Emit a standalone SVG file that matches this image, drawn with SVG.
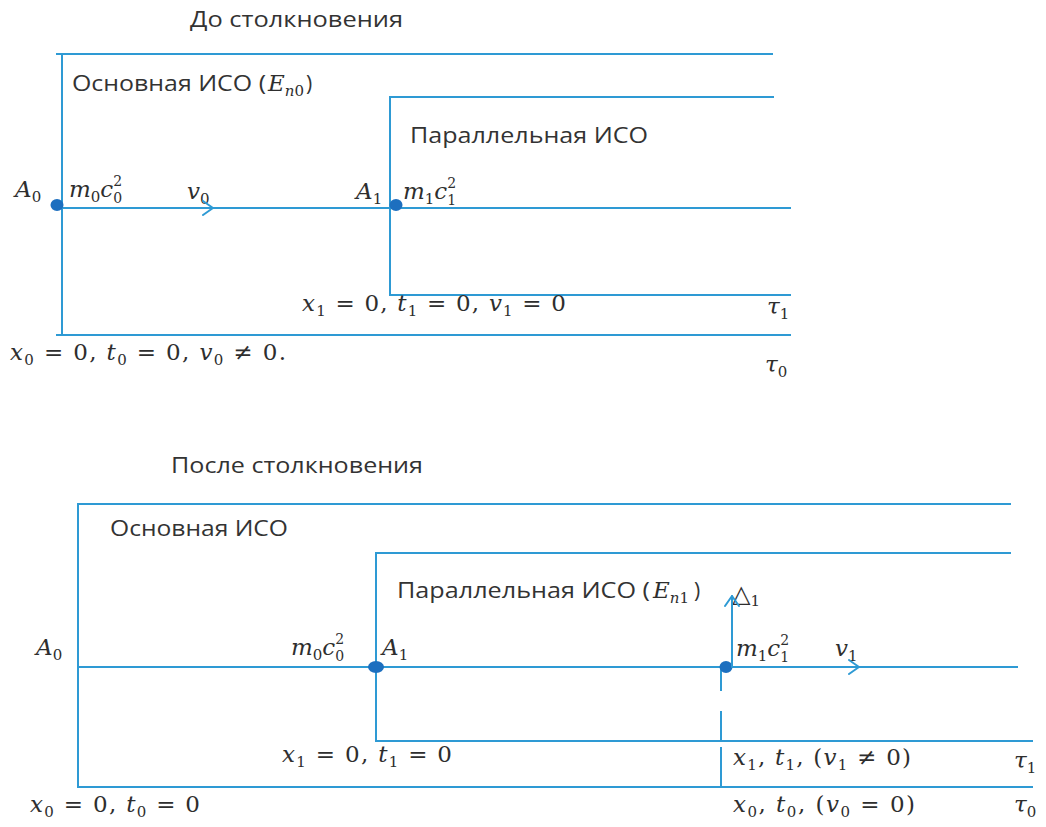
<svg xmlns="http://www.w3.org/2000/svg" width="1046" height="827" viewBox="0 0 1046 827">
<style>
.ln{stroke:#2e9ad4;stroke-width:2;fill:none;stroke-linecap:square}
.ar{stroke:#2e9ad4;stroke-width:2;fill:none;stroke-linecap:round;stroke-linejoin:round}
.dot{fill:#1d6fbf}
.t{font-family:"Open Sans","Liberation Sans",sans-serif;font-size:21px;fill:#333}
.m{font-family:"DejaVu Serif","Liberation Serif",serif;font-size:23px;fill:#2e2e2e}
.i{font-style:italic}
.s{font-size:15px}
.k{font-size:14px}
</style>
<defs>
<marker id="chev" viewBox="0 0 12 16" refX="11" refY="8" markerWidth="12" markerHeight="16" markerUnits="userSpaceOnUse" orient="auto">
<path d="M1,1 L11,8 L1,15" fill="none" stroke="#2e9ad4" stroke-width="2" stroke-linecap="round" stroke-linejoin="round"/>
</marker>
</defs>
<rect width="1046" height="827" fill="#fff"/>

<g id="top-panel">
<text class="t" x="190" y="27" textLength="213" lengthAdjust="spacingAndGlyphs">До столкновения</text>
<g id="top-main-frame">
<path class="ln" d="M57,54 H772 M62,54 V335 M57,335 H790"/>
<text class="t" x="72" y="91" textLength="194" lengthAdjust="spacingAndGlyphs">Основная ИСО (</text>
<text class="m" x="268" y="91"><tspan class="i">E</tspan><tspan class="s i" dy="5">n</tspan><tspan class="s">0</tspan></text>
<text class="t" x="306" y="91">)</text>
</g>
<g id="top-parallel-frame">
<path class="ln" d="M390,97 H773 M390,97 V295 M390,295 H790"/>
<text class="t" x="410" y="143" textLength="238" lengthAdjust="spacingAndGlyphs">Параллельная ИСО</text>
</g>
<g id="top-axis">
<path class="ln" d="M62,208 H790"/>
</g>
<g id="top-A0">
<ellipse class="dot" cx="57" cy="205" rx="6.5" ry="6"/>
<text class="m" x="15" y="197"><tspan class="i">A</tspan><tspan class="s" dy="5">0</tspan></text>
<text class="m" x="69" y="197"><tspan class="i">m</tspan><tspan class="s" dy="5">0</tspan><tspan class="i" dy="-5">c</tspan><tspan class="k" dy="-11">2</tspan><tspan class="k" dx="-9" dy="17">0</tspan></text>
<text class="m" x="187" y="199"><tspan class="i">v</tspan><tspan class="s" dy="5">0</tspan></text>
</g>
<g id="top-A1">
<ellipse class="dot" cx="396" cy="205" rx="6.5" ry="6"/>
<text class="m" x="356" y="199"><tspan class="i">A</tspan><tspan class="s" dy="5">1</tspan></text>
<text class="m" x="403" y="199"><tspan class="i">m</tspan><tspan class="s" dy="5">1</tspan><tspan class="i" dy="-5">c</tspan><tspan class="k" dy="-11">2</tspan><tspan class="k" dx="-9" dy="17">1</tspan></text>
</g>
<text class="m" x="302" y="311" textLength="264" lengthAdjust="spacing"><tspan class="i">x</tspan><tspan class="s" dy="5">1</tspan><tspan dy="-5"> = 0, </tspan><tspan class="i">t</tspan><tspan class="s" dy="5">1</tspan><tspan dy="-5"> = 0, </tspan><tspan class="i">v</tspan><tspan class="s" dy="5">1</tspan><tspan dy="-5"> = 0</tspan></text>
<text class="m" x="767" y="314"><tspan class="i">τ</tspan><tspan class="s" dy="5">1</tspan></text>
<text class="m" x="10" y="360" textLength="276" lengthAdjust="spacing"><tspan class="i">x</tspan><tspan class="s" dy="5">0</tspan><tspan dy="-5"> = 0, </tspan><tspan class="i">t</tspan><tspan class="s" dy="5">0</tspan><tspan dy="-5"> = 0, </tspan><tspan class="i">v</tspan><tspan class="s" dy="5">0</tspan><tspan dy="-5"> ≠ 0.</tspan></text>
<text class="m" x="765" y="372"><tspan class="i">τ</tspan><tspan class="s" dy="5">0</tspan></text>
</g>

<g id="bottom-panel">
<text class="t" x="171" y="473" textLength="252" lengthAdjust="spacingAndGlyphs">После столкновения</text>
<g id="bottom-main-frame">
<path class="ln" d="M78,504 H1010 M78,504 V787 M78,787 H1032"/>
<text class="t" x="110" y="536" textLength="178" lengthAdjust="spacingAndGlyphs">Основная ИСО</text>
</g>
<g id="bottom-parallel-frame">
<path class="ln" d="M376,553 H1010 M376,553 V741 M376,741 H1032"/>
<text class="t" x="397" y="598" textLength="253" lengthAdjust="spacingAndGlyphs">Параллельная ИСО (</text>
<text class="m" x="653" y="598"><tspan class="i">E</tspan><tspan class="s i" dy="5">n</tspan><tspan class="s">1</tspan></text>
<text class="t" x="694" y="598">)</text>
</g>
<g id="bottom-axis">
<path class="ln" d="M78,667 H1017"/>
<path class="ln" d="M721,670 V690 M721,712 V741 M721,748 V787"/>
</g>
<g id="bottom-A0">
<text class="m" x="36" y="655"><tspan class="i">A</tspan><tspan class="s" dy="5">0</tspan></text>
</g>
<g id="bottom-A1">
<ellipse class="dot" cx="376" cy="667" rx="8" ry="6"/>
<text class="m" x="291" y="655"><tspan class="i">m</tspan><tspan class="s" dy="5">0</tspan><tspan class="i" dy="-5">c</tspan><tspan class="k" dy="-11">2</tspan><tspan class="k" dx="-9" dy="17">0</tspan></text>
<text class="m" x="382" y="655"><tspan class="i">A</tspan><tspan class="s" dy="5">1</tspan></text>
</g>
<g id="bottom-moving">
<ellipse class="dot" cx="726" cy="667" rx="6.5" ry="6"/>
<text class="m" x="736" y="656"><tspan class="i">m</tspan><tspan class="s" dy="5">1</tspan><tspan class="i" dy="-5">c</tspan><tspan class="k" dy="-11">2</tspan><tspan class="k" dx="-9" dy="17">1</tspan></text>
<text class="m" x="835" y="656"><tspan class="i">v</tspan><tspan class="s" dy="5">1</tspan></text>
<text class="m" x="732" y="602"><tspan font-family="DejaVu Sans" font-size="24">△</tspan><tspan class="s" dy="4">1</tspan></text>
</g>
<text class="m" x="282" y="762" textLength="170" lengthAdjust="spacing"><tspan class="i">x</tspan><tspan class="s" dy="5">1</tspan><tspan dy="-5"> = 0, </tspan><tspan class="i">t</tspan><tspan class="s" dy="5">1</tspan><tspan dy="-5"> = 0</tspan></text>
<text class="m" x="733" y="765" textLength="178" lengthAdjust="spacing"><tspan class="i">x</tspan><tspan class="s" dy="5">1</tspan><tspan dy="-5">, </tspan><tspan class="i">t</tspan><tspan class="s" dy="5">1</tspan><tspan dy="-5">, (</tspan><tspan class="i">v</tspan><tspan class="s" dy="5">1</tspan><tspan dy="-5"> ≠ 0)</tspan></text>
<text class="m" x="1014" y="768"><tspan class="i">τ</tspan><tspan class="s" dy="5">1</tspan></text>
<text class="m" x="30" y="812" textLength="170" lengthAdjust="spacing"><tspan class="i">x</tspan><tspan class="s" dy="5">0</tspan><tspan dy="-5"> = 0, </tspan><tspan class="i">t</tspan><tspan class="s" dy="5">0</tspan><tspan dy="-5"> = 0</tspan></text>
<text class="m" x="733" y="812" textLength="182" lengthAdjust="spacing"><tspan class="i">x</tspan><tspan class="s" dy="5">0</tspan><tspan dy="-5">, </tspan><tspan class="i">t</tspan><tspan class="s" dy="5">0</tspan><tspan dy="-5">, (</tspan><tspan class="i">v</tspan><tspan class="s" dy="5">0</tspan><tspan dy="-5"> = 0)</tspan></text>
<text class="m" x="1014" y="812"><tspan class="i">τ</tspan><tspan class="s" dy="5">0</tspan></text>
</g>

<g id="connectors">
<path class="ar" d="M150,208 H213" marker-end="url(#chev)"/>
<path class="ar" d="M780,667 H859" marker-end="url(#chev)"/>
<path class="ar" d="M732,667 V596" marker-end="url(#chev)"/>
</g>
</svg>
